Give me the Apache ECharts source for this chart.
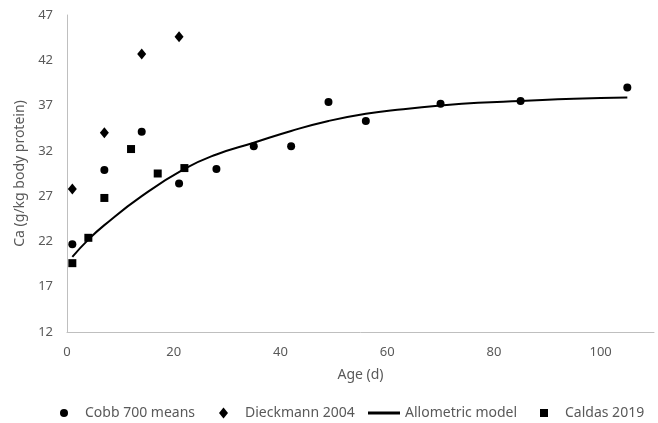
<!DOCTYPE html>
<html>
<head>
<meta charset="utf-8">
<script src="https://cdn.jsdelivr.net/npm/echarts@6/dist/echarts.min.js"></script>
<style>
  html, body { margin: 0; padding: 0; background: #fff; }
  #chart { width: 658px; height: 423px; }
</style>
</head>
<body>
<div id="chart"></div>
<script>
var cobbAge = [1, 7, 14, 21, 28, 35, 42, 49, 56, 70, 85, 105];
var cobbCa = [21.7, 29.9, 34.1, 28.4, 30.0, 32.5, 32.5, 37.4, 35.3, 37.2, 37.5, 39.0];

var dieckAge = [1, 7, 14, 21];
var dieckCa = [27.8, 34.0, 42.7, 44.6];

var caldasAge = [1, 4, 7, 12, 17, 22];
var caldasCa = [19.6, 22.4, 26.8, 32.2, 29.5, 30.1];

// fitted curve
var modelAge = [1, 4, 7, 14, 22, 28, 35, 42, 49, 56, 63, 70, 77, 85, 95, 105];
var modelCa = [20.3, 22.2, 23.8, 27.0, 30.0, 31.6, 32.9, 34.2, 35.3, 36.1, 36.6, 37.0, 37.3, 37.5, 37.75, 37.9];

function pairs(xs, ys) {
  return xs.map(function (x, i) { return [x, ys[i]]; });
}

var font = 'Noto Sans';
var grey = '#595959';

var myChart = echarts.init(document.getElementById('chart'));

// one legend per item so each sits where Excel put it
function legendAt(name, left, w, h, icon, pad) {
  return {
    data: [{ name: name, icon: icon }],
    left: left,
    top: 401,
    itemWidth: w,
    itemHeight: h,
    textStyle: { color: grey, fontFamily: font, fontSize: 14, padding: [0, 0, 0, pad] }
  };
}

var option = {
  animation: false,
  legend: [
    legendAt('Cobb 700 means', 55, 8, 8, 'circle', 12),
    legendAt('Dieckmann 2004', 214, 9, 11, 'diamond', 12),
    legendAt('Allometric model', 363, 32, 3, 'rect', 0),
    legendAt('Caldas 2019', 535, 8, 8, 'rect', 12)
  ],
  grid: { left: 67, right: 4, top: 15, bottom: 91 },
  xAxis: {
    type: 'value',
    min: 0,
    max: 110,
    interval: 20,
    name: 'Age (d)',
    nameLocation: 'middle',
    nameGap: 36,
    nameTextStyle: { color: grey, fontFamily: font, fontSize: 14 },
    axisLine: { lineStyle: { color: '#bfbfbf', width: 1 } },
    axisTick: { show: false },
    splitLine: { show: false },
    axisLabel: { color: grey, fontFamily: font, fontSize: 13, margin: 14, showMaxLabel: false }
  },
  yAxis: {
    type: 'value',
    min: 12,
    max: 47,
    interval: 5,
    name: 'Ca (g/kg body protein)',
    nameLocation: 'middle',
    nameGap: 33,
    nameTextStyle: { color: grey, fontFamily: font, fontSize: 14 },
    axisLine: { show: true, lineStyle: { color: '#bfbfbf', width: 1 } },
    axisTick: { show: false },
    splitLine: { show: false },
    axisLabel: { color: grey, fontFamily: font, fontSize: 13, margin: 14 }
  },
  series: [
    {
      name: 'Cobb 700 means',
      type: 'scatter',
      symbol: 'circle',
      symbolSize: 8,
      itemStyle: { color: '#000', opacity: 1 },
      data: pairs(cobbAge, cobbCa)
    },
    {
      name: 'Dieckmann 2004',
      type: 'scatter',
      symbol: 'diamond',
      symbolSize: [9, 11],
      itemStyle: { color: '#000', opacity: 1 },
      data: pairs(dieckAge, dieckCa)
    },
    {
      name: 'Allometric model',
      type: 'line',
      smooth: true,
      symbol: 'none',
      lineStyle: { color: '#000', width: 2 },
      itemStyle: { color: '#000' },
      data: pairs(modelAge, modelCa)
    },
    {
      name: 'Caldas 2019',
      type: 'scatter',
      symbol: 'rect',
      symbolSize: 8,
      itemStyle: { color: '#000', opacity: 1 },
      data: pairs(caldasAge, caldasCa)
    }
  ]
};
myChart.setOption(option);
</script>
</body>
</html>
